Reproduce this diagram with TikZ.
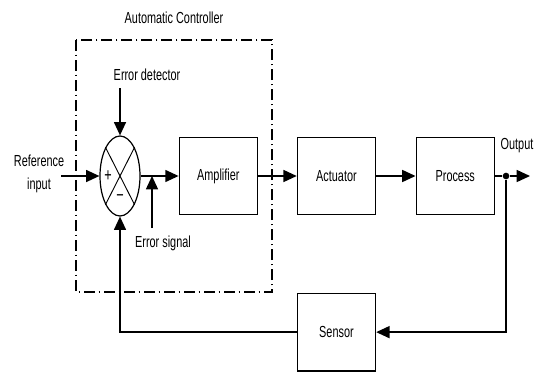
\documentclass[tikz,border=0pt]{standalone}
\usepackage{fontspec}
\setmainfont{Liberation Sans}[FakeStretch=0.68]
\usetikzlibrary{positioning, arrows.meta, shapes.geometric}

\begin{document}
\begin{tikzpicture}[
  x=0.75pt, y=-0.75pt,
  blk/.style={draw, line width=1.1pt, minimum width=58.5pt, minimum height=58pt,
              inner sep=0pt, font=\fontsize{12}{17}\selectfont},
  sumjn/.style={draw, ellipse, line width=0.9pt, minimum width=30pt, minimum height=60pt,
                inner sep=0pt},
  arr/.style={-{Triangle[length=10pt, width=9pt]}, line width=1.1pt},
  ln/.style={line width=1.1pt},
  ctrlbox/.style={line width=0.9pt, dash pattern=on 8pt off 3pt on 1pt off 3pt},
  lbl/.style={font=\fontsize{12}{17}\selectfont, align=center, inner sep=1pt},
  sgn/.style={font=\fontsize{14}{14}\selectfont, inner sep=0pt},
]
\useasboundingbox (0,0) rectangle (538,371);

% === Automatic controller group ===
\draw[ctrlbox] (76,40) rectangle (272,292);
\node[lbl] (ctrltitle) at (174,18) {Automatic Controller};

% === Summing junction ===
\node[sumjn] (sum) at (120,176) {};
\draw[line width=0.7pt] (sum.north west) -- (sum.south east)
                        (sum.north east) -- (sum.south west);
\node[sgn] (plus) at (108,176) {+};
\node[sgn] (minus) at (120,198) {−};

% === Blocks (forward path) ===
\node[blk, right=28.5pt of sum] (ampl) {Amplifier};
\node[blk, right=29pt of ampl] (actu) {Actuator};
\node[blk, right=29.5pt of actu] (proc) {Process};
\node[blk, below=58pt of actu] (sensor) {Sensor};

% === Labels ===
\node[lbl] (refin) at (39,174) {Reference\\input};
\node[lbl] (errdet) at (147,75) {Error detector};
\node[lbl] (errsig) at (163,243) {Error signal};
\node[lbl] (outlbl) at (517,146) {Output};

% === Points ===
\coordinate (refstart) at (61,176);
\coordinate (edstart) at (120,88);
\coordinate (esstart) at (152,228);
\node[circle, fill, inner sep=0pt, minimum size=5pt] (dot) at (506,176) {};
\coordinate (outend) at (530,176);

% === Main arrows ===
\draw[arr] (refstart) -- (sum.west);
\draw[arr] (edstart) -- (sum.north);
\draw[arr] (sum.east) -- (ampl.west);
\draw[arr] (esstart) -- (esstart |- sum.east);
\draw[arr] (ampl.east) -- (actu.west);
\draw[arr] (actu.east) -- (proc.west);
\draw[ln] (proc.east) -- (dot);
\draw[arr] (dot) -- (outend);

% === Feedback path ===
\draw[arr] (dot) |- (sensor.east);
\draw[arr] (sensor.west) -| (sum.south);

\end{tikzpicture}
\end{document}
